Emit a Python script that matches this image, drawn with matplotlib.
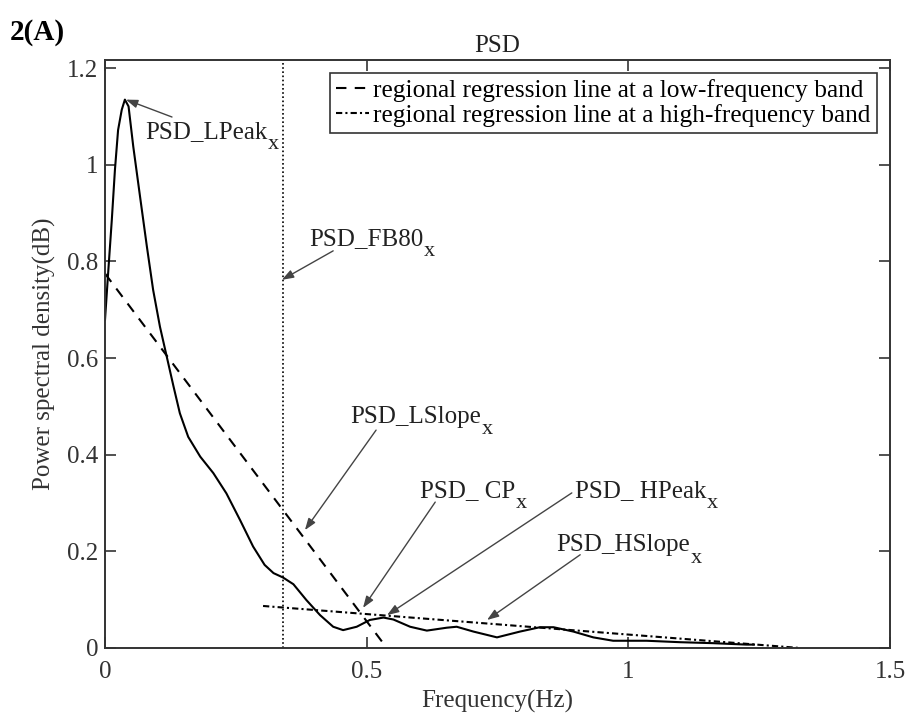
import numpy as np
import matplotlib.pyplot as plt

plt.rcParams['font.family'] = ['Liberation Serif', 'DejaVu Serif']

# PSD curve (frequency in Hz, power in dB)
freq = [0.000, 0.006, 0.013, 0.019, 0.025, 0.032, 0.038, 0.045, 0.054, 0.067,
        0.080, 0.092, 0.105, 0.118, 0.131, 0.143, 0.159, 0.182, 0.207, 0.232,
        0.258, 0.283, 0.305, 0.322, 0.340, 0.360, 0.385, 0.411, 0.436, 0.455,
        0.481, 0.506, 0.532, 0.551, 0.583, 0.615, 0.653, 0.672, 0.704, 0.749,
        0.793, 0.831, 0.857, 0.895, 0.933, 0.971, 1.035, 1.099, 1.162, 1.226,
        1.240]
psd = [0.679, 0.776, 0.886, 0.990, 1.072, 1.114, 1.135, 1.121, 1.038, 0.934,
       0.831, 0.741, 0.665, 0.603, 0.541, 0.486, 0.437, 0.396, 0.362, 0.320,
       0.265, 0.210, 0.172, 0.155, 0.146, 0.132, 0.099, 0.068, 0.044, 0.037,
       0.044, 0.058, 0.063, 0.059, 0.044, 0.036, 0.042, 0.044, 0.034, 0.022,
       0.034, 0.043, 0.043, 0.034, 0.022, 0.015, 0.015, 0.012, 0.010, 0.007,
       0.007]

# regional regression lines
low_x = [0.0, 0.535]
low_y = [0.775, 0.005]
high_x = [0.302, 1.328]
high_y = [0.087, 0.0]

fb80 = 0.34

# annotations: label, arrow tip, arrow tail, text anchor
notes = [
    ('PSD_LPeak', (0.040, 1.135), (0.128, 1.099), (0.076, 1.056)),
    ('PSD_FB80', (0.338, 0.762), (0.436, 0.822), (0.390, 0.834)),
    ('PSD_LSlope', (0.382, 0.244), (0.518, 0.451), (0.468, 0.466)),
    ('PSD_ CP', (0.493, 0.083), (0.631, 0.302), (0.602, 0.313)),
    ('PSD_ HPeak', (0.539, 0.068), (0.892, 0.321), (0.898, 0.313)),
    ('PSD_HSlope', (0.730, 0.058), (0.908, 0.193), (0.862, 0.200)),
]

fig = plt.figure(figsize=(9.06, 7.18), dpi=100)
ax = fig.add_axes([105 / 906, 1 - 648 / 718, 785 / 906, 588 / 718])

ax.plot(freq, psd, color='black', lw=1.5)
l1, = ax.plot(low_x, low_y, color='black', lw=1.5, linestyle=(0, (5, 4)))
l2, = ax.plot(high_x, high_y, color='black', lw=1.5, linestyle=(0, (3, 1.5, 1, 1.5)))
ax.axvline(fb80, color='black', lw=1.2, linestyle=(0, (1, 1.5)))

for label, tip, tail, pos in notes:
    ax.annotate('', xy=tip, xytext=tail,
                arrowprops=dict(arrowstyle='-|>,head_length=0.7,head_width=0.25',
                                color='#444444', lw=1.0, shrinkA=0, shrinkB=0))
    t = ax.text(pos[0], pos[1], label, fontsize=18, color='#222222',
                ha='left', va='baseline')
    # subscript x, dropped below the baseline
    ax.annotate('x', xy=(1, 0), xycoords=t, xytext=(0.5, -4.5),
                textcoords='offset points', fontsize=16, color='#222222',
                ha='left', va='baseline')

ax.set_xlim(0, 1.5)
ax.set_ylim(0, 1.217)
ax.set_xticks([0, 0.5, 1, 1.5])
ax.set_xticklabels(['0', '0.5', '1', '1.5'])
ax.set_yticks([0, 0.2, 0.4, 0.6, 0.8, 1.0, 1.2])
ax.set_yticklabels(['0', '0.2', '0.4', '0.6', '0.8', '1', '1.2'])
ax.tick_params(direction='in', length=8, width=1.2, top=True, right=True,
               labelsize=18, labelcolor='#333333', color='#333333')
ax.tick_params(axis='x', pad=9)
ax.tick_params(axis='y', pad=5)
for s in ax.spines.values():
    s.set_linewidth(1.4)
    s.set_color('#333333')

ax.set_title('PSD', fontsize=18, color='#222222', pad=6)
ax.set_xlabel('Frequency(Hz)', fontsize=18, color='#333333', labelpad=5)
ax.set_ylabel('Power spectral density(dB)', fontsize=18, color='#333333', labelpad=8)

leg = ax.legend([l1, l2], ['regional regression line at a low-frequency band',
                           'regional regression line at a high-frequency band'],
                loc='upper right', bbox_to_anchor=(0.983, 0.978), fontsize=18.3,
                handlelength=1.3, handletextpad=0.15, labelspacing=0.05,
                borderpad=0.25, borderaxespad=0, fancybox=False, framealpha=1)
leg.get_frame().set_edgecolor('#333333')
leg.get_frame().set_linewidth(1.2)

fig.text(10 / 906, 1 - 40 / 718, '2(A)', fontsize=21, fontweight='bold', color='black')

fig.savefig('out.png', dpi=100)
